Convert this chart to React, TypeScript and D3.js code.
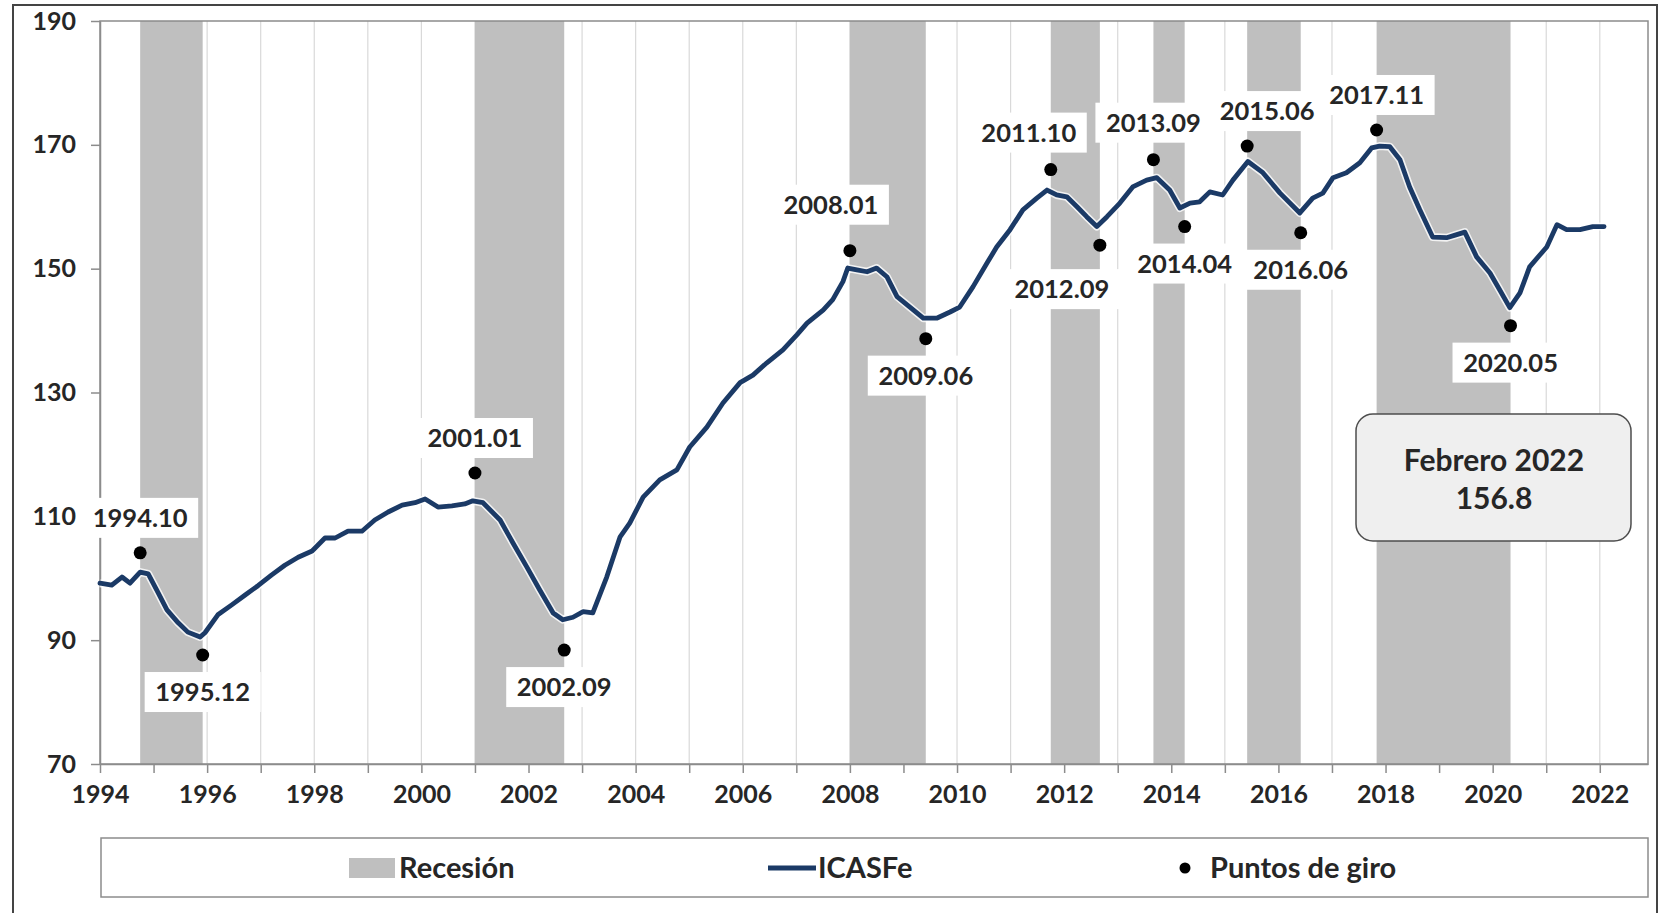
import React, { useRef, useEffect } from 'react';
import * as d3 from 'd3';

// ICASFe (decimal year, index value)
const lineDates = [
  1994.0, 1994.22, 1994.41, 1994.56, 1994.75, 1994.9, 1995.06, 1995.25, 1995.46, 1995.64, 1995.87, 1995.96,
  1996.2, 1996.46, 1996.71, 1996.95, 1997.2, 1997.45, 1997.7, 1997.96, 1998.2, 1998.39, 1998.63, 1998.89,
  1999.13, 1999.38, 1999.64, 1999.88, 2000.07, 2000.31, 2000.57, 2000.81, 2000.96, 2001.15, 2001.47, 2001.71,
  2001.97, 2002.21, 2002.46, 2002.64, 2002.83, 2003.02, 2003.2, 2003.46, 2003.71, 2003.89, 2004.14, 2004.45,
  2004.77, 2005.01, 2005.33, 2005.63, 2005.95, 2006.19, 2006.45, 2006.75, 2007.01, 2007.2, 2007.5, 2007.68,
  2007.87, 2007.96, 2008.13, 2008.32, 2008.5, 2008.69, 2008.88, 2009.12, 2009.37, 2009.62, 2009.87, 2010.05,
  2010.3, 2010.56, 2010.74, 2010.99, 2011.23, 2011.49, 2011.68, 2011.86, 2012.05, 2012.24, 2012.42, 2012.61,
  2012.8, 2013.04, 2013.28, 2013.54, 2013.73, 2013.97, 2014.16, 2014.35, 2014.53, 2014.72, 2014.96, 2015.15,
  2015.43, 2015.71, 2016.03, 2016.4, 2016.64, 2016.83, 2017.02, 2017.27, 2017.52, 2017.74, 2017.89, 2018.08,
  2018.27, 2018.45, 2018.64, 2018.88, 2019.14, 2019.33, 2019.48, 2019.7, 2019.95, 2020.13, 2020.32, 2020.51,
  2020.69, 2020.88, 2021.01, 2021.2, 2021.38, 2021.63, 2021.87, 2022.08,
];
const lineValues = [
  99.2, 98.9, 100.2, 99.2, 101.0, 100.7, 98.1, 94.9, 92.8, 91.3, 90.5, 91.2,
  94.1, 95.7, 97.3, 98.8, 100.5, 102.1, 103.4, 104.4, 106.5, 106.5, 107.6, 107.6,
  109.4, 110.7, 111.8, 112.2, 112.8, 111.5, 111.7, 112.0, 112.5, 112.2, 109.4, 105.7,
  101.8, 98.1, 94.4, 93.3, 93.7, 94.6, 94.4, 100.2, 106.7, 108.9, 113.1, 115.9,
  117.5, 121.2, 124.4, 128.3, 131.6, 132.8, 134.8, 136.9, 139.3, 141.2, 143.3, 145.0,
  147.9, 150.1, 149.8, 149.5, 150.1, 148.7, 145.5, 143.8, 142.0, 142.0, 143.0, 143.8,
  147.1, 150.9, 153.5, 156.3, 159.5, 161.4, 162.7, 161.9, 161.6, 160.0, 158.4, 156.8,
  158.4, 160.6, 163.2, 164.3, 164.7, 162.7, 159.8, 160.6, 160.8, 162.4, 161.9, 164.3,
  167.3, 165.5, 162.2, 159.0, 161.4, 162.2, 164.7, 165.5, 167.1, 169.5, 169.8, 169.7,
  167.6, 163.2, 159.5, 155.1, 155.0, 155.5, 155.9, 151.9, 149.3, 146.6, 143.7, 146.1,
  150.3, 152.2, 153.5, 157.1, 156.3, 156.3, 156.8, 156.8,
];

const recessionStarts = ['1994.10', '2001.01', '2008.01', '2011.10', '2013.09', '2015.06', '2017.11'];
const recessionEnds = ['1995.12', '2002.09', '2009.06', '2012.09', '2014.04', '2016.06', '2020.05'];

const turningLabels = [
  '1994.10', '1995.12', '2001.01', '2002.09', '2008.01', '2009.06', '2011.10',
  '2012.09', '2013.09', '2014.04', '2015.06', '2016.06', '2017.11', '2020.05',
];
const turningKinds = [
  'peak', 'trough', 'peak', 'trough', 'peak', 'trough', 'peak',
  'trough', 'peak', 'trough', 'peak', 'trough', 'peak', 'trough',
];
const turningMarkers = [104.1, 87.6, 117.0, 88.4, 152.9, 138.7, 166.0, 153.8, 167.6, 156.8, 169.8, 155.8, 172.4, 140.8];

const yTicks = [70, 90, 110, 130, 150, 170, 190];
const xTickYears = d3.range(1994, 2023);
const legendLabels = ['Recesión', 'ICASFe', 'Puntos de giro'];
const latestMonth = 'Febrero 2022';
const latestValue = '156.8';

// label nudges so they don't collide
const labelNudge: Record<string, [number, number]> = {
  '2008.01': [-19, -11],
  '2011.10': [-22, -2],
  '2012.09': [-38, 7],
  '2013.09': [0, -2],
  '2015.06': [20, 0],
};

const toYear = (s: string) => {
  const [y, m] = s.split('.').map(Number);
  return y + (m - 1) / 12;
};

const FONT = 'Lato, "Open Sans", sans-serif';
const NAVY = '#1b3a66';
const INK = '#262626';

const App: React.FC = () => {
  const svgRef = useRef<SVGSVGElement>(null);

  useEffect(() => {
    if (!svgRef.current) return;
    const W = 1659;
    const H = 913;
    const plot = { left: 100, right: 1648, top: 21, bottom: 764 };

    const svg = d3.select(svgRef.current);
    svg.selectAll('*').remove();
    svg.attr('width', W).attr('height', H).style('font-family', FONT);

    svg.append('rect').attr('width', W).attr('height', H).attr('fill', '#fff');

    // outer frame
    svg.append('rect')
      .attr('x', 13).attr('y', 5)
      .attr('width', 1644).attr('height', 940)
      .attr('fill', 'none').attr('stroke', '#444').attr('stroke-width', 2);

    const x = d3.scaleLinear().domain([1994, 2022.9]).range([plot.left, plot.right]);
    const y = d3.scaleLinear().domain([70, 190]).range([plot.bottom, plot.top]);

    // vertical gridlines
    svg.append('g')
      .selectAll('line')
      .data(xTickYears.slice(1))
      .enter()
      .append('line')
      .attr('x1', d => x(d)).attr('x2', d => x(d))
      .attr('y1', plot.top).attr('y2', plot.bottom)
      .attr('stroke', '#d9d9d9').attr('stroke-width', 1.2);

    // recession bands
    svg.append('g')
      .selectAll('rect')
      .data(recessionStarts.map((s, i) => [toYear(s), toYear(recessionEnds[i])]))
      .enter()
      .append('rect')
      .attr('x', d => x(d[0]))
      .attr('width', d => x(d[1]) - x(d[0]))
      .attr('y', plot.top)
      .attr('height', plot.bottom - plot.top)
      .attr('fill', '#bfbfbf');

    // plot border
    svg.append('rect')
      .attr('x', plot.left).attr('y', plot.top)
      .attr('width', plot.right - plot.left).attr('height', plot.bottom - plot.top)
      .attr('fill', 'none').attr('stroke', '#8c8c8c').attr('stroke-width', 1.5);

    // axes
    const yAxis = svg.append('g')
      .attr('transform', `translate(${plot.left},0)`)
      .call(d3.axisLeft(y).tickValues(yTicks).tickSize(9).tickSizeOuter(0).tickPadding(15));
    const xAxis = svg.append('g')
      .attr('transform', `translate(0,${plot.bottom})`)
      .call(d3.axisBottom(x).tickValues(xTickYears).tickSize(9).tickSizeOuter(0).tickPadding(12)
        .tickFormat(d => (+d % 2 === 0 ? String(d) : '')));
    [yAxis, xAxis].forEach(a => {
      a.select('.domain').attr('stroke', '#8c8c8c').attr('stroke-width', 1.5);
      a.selectAll('.tick line').attr('stroke', '#8c8c8c').attr('stroke-width', 1.5);
      a.selectAll('.tick text')
        .attr('fill', INK)
        .attr('font-size', 25)
        .attr('font-weight', 700)
        .attr('font-family', FONT);
    });

    // ICASFe line
    const pts = lineDates.map((d, i) => [d, lineValues[i]] as [number, number]);
    const line = d3.line<[number, number]>().x(d => x(d[0])).y(d => y(d[1]));
    svg.append('path')
      .datum(pts)
      .attr('fill', 'none').attr('stroke', '#ffffff').attr('stroke-width', 8)
      .attr('stroke-linejoin', 'round').attr('opacity', 0.8)
      .attr('d', line);
    svg.append('path')
      .datum(pts)
      .attr('fill', 'none').attr('stroke', NAVY).attr('stroke-width', 4.8)
      .attr('stroke-linejoin', 'round').attr('stroke-linecap', 'round')
      .attr('d', line);

    // turning points
    const tp = turningLabels.map((label, i) => ({
      label,
      kind: turningKinds[i],
      cx: x(toYear(label)),
      cy: y(turningMarkers[i]),
    }));

    svg.append('g')
      .selectAll('circle')
      .data(tp)
      .enter()
      .append('circle')
      .attr('cx', d => d.cx).attr('cy', d => d.cy).attr('r', 6.5)
      .attr('fill', '#000');

    const labels = svg.append('g').selectAll('g').data(tp).enter().append('g')
      .attr('transform', d => {
        const n = labelNudge[d.label] || [0, 0];
        const dy = d.kind === 'peak' ? -35 : 37;
        return `translate(${d.cx + n[0]},${d.cy + dy + n[1]})`;
      });
    labels.append('rect')
      .attr('x', -58).attr('y', -20).attr('width', 116).attr('height', 40)
      .attr('fill', '#fff');
    labels.append('text')
      .attr('text-anchor', 'middle')
      .attr('dy', '0.36em')
      .attr('font-size', 25.5)
      .attr('font-weight', 700)
      .attr('fill', INK)
      .text(d => d.label);

    // latest value box
    const box = svg.append('g');
    box.append('rect')
      .attr('x', 1356).attr('y', 414).attr('width', 275).attr('height', 127)
      .attr('rx', 17)
      .attr('fill', '#efefef').attr('stroke', '#4d4d4d').attr('stroke-width', 1.5);
    box.append('text')
      .attr('x', 1494).attr('y', 460).attr('dy', '0.36em')
      .attr('text-anchor', 'middle').attr('font-size', 30).attr('font-weight', 700)
      .attr('fill', INK)
      .text(latestMonth);
    box.append('text')
      .attr('x', 1494).attr('y', 498).attr('dy', '0.36em')
      .attr('text-anchor', 'middle').attr('font-size', 30).attr('font-weight', 700)
      .attr('fill', INK)
      .text(latestValue);

    // legend
    const lg = svg.append('g');
    const ly = 868;
    lg.append('rect')
      .attr('x', 101).attr('y', 838).attr('width', 1547).attr('height', 59)
      .attr('fill', '#fff').attr('stroke', '#8c8c8c').attr('stroke-width', 1.5);
    lg.append('rect')
      .attr('x', 349).attr('y', ly - 10).attr('width', 46).attr('height', 20)
      .attr('fill', '#bfbfbf');
    lg.append('line')
      .attr('x1', 768).attr('x2', 816).attr('y1', ly).attr('y2', ly)
      .attr('stroke', NAVY).attr('stroke-width', 4.8);
    lg.append('circle').attr('cx', 1185).attr('cy', ly).attr('r', 5.5).attr('fill', '#000');
    const legendX = [399, 818, 1210];
    lg.selectAll('text.leg')
      .data(legendLabels)
      .enter()
      .append('text')
      .attr('class', 'leg')
      .attr('x', (_, i) => legendX[i])
      .attr('y', ly).attr('dy', '0.36em')
      .attr('font-size', 29).attr('font-weight', 700)
      .attr('fill', INK)
      .text(d => d);
  }, []);

  return (
    <div style={{ position: 'fixed', left: 0, top: 0, width: 1659, height: 913, overflow: 'hidden', background: '#fff' }}>
      <svg ref={svgRef} style={{ display: 'block' }} />
    </div>
  );
};

export default App;
